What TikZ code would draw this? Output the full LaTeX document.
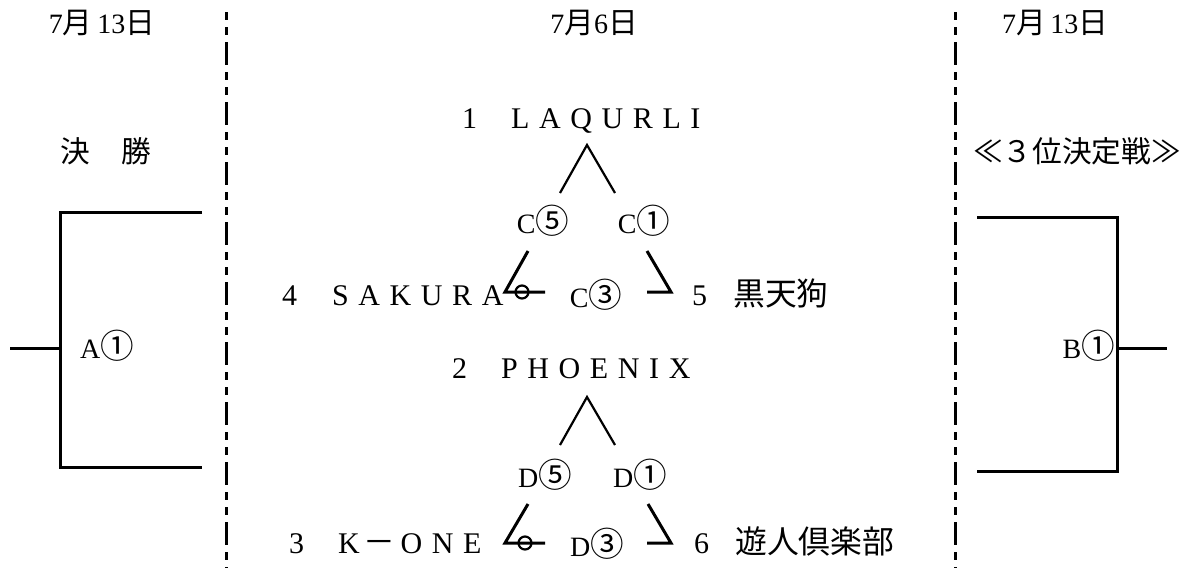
\documentclass[tikz,border=0pt]{standalone}
\usepackage{fontspec}
\setmainfont{Liberation Serif}
\newfontfamily\jp[Scale=1.06]{Noto Sans CJK JP}
\newfontfamily\cnum[Scale=1.2]{Noto Sans CJK JP}
\newfontfamily\spc[LetterSpace=32]{Liberation Serif}
\begin{document}
\begin{tikzpicture}[x=1pt, y=-1pt,
  txt/.style={inner sep=0pt, anchor=base west, font=\fontsize{28}{30}\selectfont},
  team/.style={txt, font=\fontsize{30}{32}\selectfont},
  bline/.style={line width=3pt},
  vline/.style={line width=2.2pt},
  sepline/.style={line width=3pt, dash pattern=on 8pt off 7pt on 8pt off 7pt on 23pt off 7pt}]
\useasboundingbox (0,0) rectangle (1182,568);
% dates and headings
\node[txt, anchor=base] (dateL) at (102,33) {7{\jp 月}\,13{\jp 日}};
\node[txt, anchor=base] (dateM) at (594,33) {7{\jp 月}6{\jp 日}};
\node[txt, anchor=base] (dateR) at (1055,33) {7{\jp 月}\,13{\jp 日}};
\node[txt, anchor=base] (final) at (106,162) {{\jp 決\hspace{32pt}勝}};
\node[txt, anchor=base] (third) at (1077,162) {{\jp ≪３位決定戦≫}};
% separators
\coordinate (sepLt) at (226,12);
\coordinate (sepLb) at (226,568);
\coordinate (sepRt) at (955,12);
\coordinate (sepRb) at (955,568);
\draw[sepline] (sepLt) -- (sepLb);
\draw[sepline] (sepRt) -- (sepRb);
% final
\coordinate (fa) at (202,212);
\coordinate (fb) at (60,212);
\coordinate (fc) at (60,467);
\coordinate (fd) at (202,467);
\coordinate (fm) at (60,348);
\coordinate (fe) at (10,348);
\draw[bline] (fa) -- (fb) -- (fc) -- (fd);
\draw[bline] (fm) -- (fe);
\node[txt] (gA) at (80,358) {A{\cnum ①}};
% third place
\coordinate (ta) at (977,217);
\coordinate (tb) at (1117,217);
\coordinate (tc) at (1117,471);
\coordinate (td) at (977,471);
\coordinate (tm) at (1117,348);
\coordinate (te) at (1167,348);
\draw[bline] (ta) -- (tb) -- (tc) -- (td);
\draw[bline] (tm) -- (te);
\node[txt, anchor=base east] (gB) at (1115,358) {B{\cnum ①}};
% group C
\node[team] (t1) at (462,128) {1\hspace{34pt}{\spc LAQURLI}};
\node[team] (t4) at (282,305) {4\hspace{35pt}{\spc SAKURA}};
\node[team] (t5) at (692,305) {5\hspace{26pt}{\jp 黒天狗}};
\node[txt, anchor=base] (c5) at (543,233) {C{\cnum ⑤}};
\node[txt, anchor=base] (c1) at (644,233) {C{\cnum ①}};
\node[txt, anchor=base] (c3) at (596,307) {C{\cnum ③}};
\coordinate (cp) at (587,145);
\coordinate (cpl) at (560,193);
\coordinate (cpr) at (615,193);
\draw[vline] (cpl) -- (cp) -- (cpr);
\coordinate (cla) at (528,251);
\coordinate (clb) at (505,292);
\coordinate (clc) at (545,292);
\coordinate (clo) at (522,292);
\draw[bline] (cla) -- (clb) -- (clc);
\draw[line width=2.2pt] (clo) circle (6.5);
\coordinate (cra) at (647,251);
\coordinate (crb) at (671,292);
\coordinate (crc) at (647,292);
\draw[bline] (cra) -- (crb) -- (crc);
% group D
\node[team] (t2) at (452,378) {2\hspace{34pt}{\spc PHOENIX}};
\node[team] (t3) at (289,553) {3\hspace{34pt}{\spc K}\hspace{4pt}{\jp －}\hspace{5pt}{\spc ONE}};
\node[team] (t6) at (694,553) {6\hspace{26pt}{\jp 遊人倶楽部}};
\node[txt, anchor=base] (d5) at (545,487) {D{\cnum ⑤}};
\node[txt, anchor=base] (d1) at (640,487) {D{\cnum ①}};
\node[txt, anchor=base] (d3) at (597,556) {D{\cnum ③}};
\coordinate (dp) at (587,397);
\coordinate (dpl) at (560,445);
\coordinate (dpr) at (615,445);
\draw[vline] (dpl) -- (dp) -- (dpr);
\coordinate (dla) at (528,504);
\coordinate (dlb) at (505,543);
\coordinate (dlc) at (545,543);
\coordinate (dlo) at (525,543);
\draw[bline] (dla) -- (dlb) -- (dlc);
\draw[line width=2.2pt] (dlo) circle (6.5);
\coordinate (dra) at (648,504);
\coordinate (drb) at (671,543);
\coordinate (drc) at (647,543);
\draw[bline] (dra) -- (drb) -- (drc);
\end{tikzpicture}
\end{document}
